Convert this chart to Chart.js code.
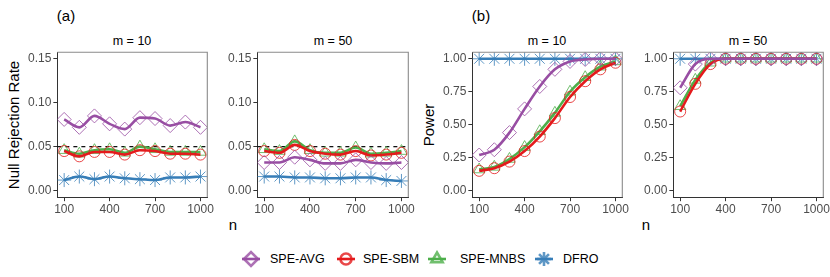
<!DOCTYPE html>
<html>
<head>
<meta charset="utf-8">
<script src="https://cdn.jsdelivr.net/npm/chart.js@4.4.1/dist/chart.umd.min.js"></script>
<style>
  body { margin: 0; width: 830px; height: 277px; background: #fff; position: relative; overflow: hidden;
         font-family: "Liberation Sans", Arial, sans-serif; }
  .panel { position: absolute; }
  .txt { position: absolute; white-space: nowrap; color: #000; transform: translate(-50%, -50%); }
  .leg { position: absolute; white-space: nowrap; font-size: 12.5px; color: #000; transform: translateY(-50%); }
  .icon { position: absolute; }
</style>
</head>
<body>

<div class="txt" style="left:66px;top:15px;font-size:15px;">(a)</div>
<div class="txt" style="left:481px;top:15px;font-size:15px;">(b)</div>

<div class="txt" style="left:132px;top:41px;font-size:12.5px;">m = 10</div>
<div class="txt" style="left:333px;top:41px;font-size:12.5px;">m = 50</div>
<div class="txt" style="left:547px;top:41px;font-size:12.5px;">m = 10</div>
<div class="txt" style="left:748px;top:41px;font-size:12.5px;">m = 50</div>

<div class="txt" style="left:13px;top:125px;font-size:15px;transform:translate(-50%,-50%) rotate(-90deg);">Null Rejection Rate</div>
<div class="txt" style="left:428px;top:125px;font-size:15px;transform:translate(-50%,-50%) rotate(-90deg);">Power</div>

<div class="txt" style="left:233px;top:224px;font-size:15px;">n</div>
<div class="txt" style="left:646px;top:224px;font-size:15px;">n</div>

<div class="panel" id="p1"><canvas id="c1"></canvas></div>
<div class="panel" id="p2"><canvas id="c2"></canvas></div>
<div class="panel" id="p3"><canvas id="c3"></canvas></div>
<div class="panel" id="p4"><canvas id="c4"></canvas></div>

<div id="legend"></div>

<script>
// ---- data ----
const nValues = [100, 200, 300, 400, 500, 600, 700, 800, 900, 1000];
const nTicks = [100, 400, 700, 1000];
const seriesNames = ['SPE-AVG', 'SPE-SBM', 'SPE-MNBS', 'DFRO'];

const nullTicks = [0, 0.05, 0.10, 0.15];
const powerTicks = [0, 0.25, 0.50, 0.75, 1.00];
const nominalLevel = 0.05;

// (a) null rejection rate, m = 10
const nullM10Avg  = [0.081, 0.072, 0.085, 0.076, 0.070, 0.083, 0.082, 0.074, 0.078, 0.072];
const nullM10Sbm  = [0.045, 0.039, 0.044, 0.044, 0.041, 0.046, 0.045, 0.042, 0.042, 0.041];
const nullM10Mnbs = [0.046, 0.042, 0.046, 0.047, 0.043, 0.050, 0.047, 0.044, 0.044, 0.044];
const nullM10Dfro = [0.012, 0.016, 0.013, 0.016, 0.014, 0.013, 0.012, 0.015, 0.015, 0.016];

// (a) null rejection rate, m = 50
const nullM50Avg  = [0.032, 0.032, 0.038, 0.035, 0.031, 0.031, 0.035, 0.032, 0.031, 0.032];
const nullM50Sbm  = [0.045, 0.043, 0.052, 0.045, 0.042, 0.041, 0.045, 0.040, 0.041, 0.043];
const nullM50Mnbs = [0.047, 0.045, 0.056, 0.046, 0.043, 0.043, 0.049, 0.042, 0.043, 0.045];
const nullM50Dfro = [0.016, 0.016, 0.015, 0.015, 0.014, 0.014, 0.015, 0.015, 0.012, 0.011];

// (b) power, m = 10
const powM10Avg  = [0.27, 0.31, 0.44, 0.62, 0.79, 0.92, 0.98, 0.995, 1.00, 1.00];
const powM10Sbm  = [0.15, 0.17, 0.22, 0.30, 0.41, 0.55, 0.71, 0.83, 0.92, 0.97];
const powM10Mnbs = [0.16, 0.18, 0.24, 0.33, 0.45, 0.59, 0.75, 0.86, 0.94, 0.98];
const powM10Dfro = [1.00, 1.00, 1.00, 1.00, 1.00, 1.00, 1.00, 1.00, 1.00, 1.00];

// (b) power, m = 50
const powM50Avg  = [0.78, 0.96, 1.00, 1.00, 1.00, 1.00, 1.00, 1.00, 1.00, 1.00];
const powM50Sbm  = [0.60, 0.81, 0.96, 1.00, 1.00, 1.00, 1.00, 1.00, 1.00, 1.00];
const powM50Mnbs = [0.64, 0.84, 0.97, 1.00, 1.00, 1.00, 1.00, 1.00, 1.00, 1.00];
const powM50Dfro = [1.00, 1.00, 1.00, 1.00, 1.00, 1.00, 1.00, 1.00, 1.00, 1.00];

// ---- styling ----
const FONT = '"Liberation Sans", Arial, sans-serif';
const lineColors  = ['#984EA3', '#E41A1C', '#4DAF4A', '#377EB8'];
const pointColors = ['rgba(152,78,163,0.8)', 'rgba(228,26,28,0.8)', 'rgba(77,175,74,0.8)', 'rgba(55,126,184,0.8)'];
const pointStyles = ['rectRot', 'circle', 'triangle', 'star'];
const pointSizes  = [7, 5.5, 6.5, 7];

// draws the dashed reference line and the grey top/right frame
const framePlugin = {
    id: 'frame',
    beforeDatasetsDraw(chart, args, opts) {
        if (opts.hline == null) return;
        const { ctx, chartArea } = chart;
        const y = chart.scales.y.getPixelForValue(opts.hline);
        ctx.save();
        ctx.strokeStyle = '#000';
        ctx.lineWidth = 1.2;
        ctx.setLineDash([4, 4]);
        ctx.beginPath();
        ctx.moveTo(chartArea.left, y);
        ctx.lineTo(chartArea.right, y);
        ctx.stroke();
        ctx.restore();
    },
    afterDatasetsDraw(chart) {
        const { ctx, chartArea: a } = chart;
        ctx.save();
        ctx.strokeStyle = '#8a8a8a';
        ctx.lineWidth = 1.1;
        ctx.beginPath();
        ctx.moveTo(a.left, a.top);
        ctx.lineTo(a.right, a.top);
        ctx.lineTo(a.right, a.bottom);
        ctx.stroke();
        ctx.restore();
    }
};

function makeDatasets(seriesList) {
    return seriesList.map((vals, i) => ({
        label: seriesNames[i],
        data: nValues.map((n, j) => ({ x: n, y: vals[j] })),
        borderColor: lineColors[i],
        borderWidth: 2.6,
        cubicInterpolationMode: 'monotone',
        pointStyle: pointStyles[i],
        pointRadius: pointSizes[i],
        pointBorderColor: pointColors[i],
        pointBackgroundColor: 'rgba(0,0,0,0)',
        pointBorderWidth: 1,
        order: i
    }));
}

function axisCommon() {
    return {
        grid: { display: true, drawOnChartArea: false, drawTicks: true, tickLength: 4, color: '#333', lineWidth: 1 },
        border: { display: true, color: '#333', width: 1 },
    };
}

function makePanel(num, box, seriesList, yMin, yMax, yTicks, hline) {
    const div = document.getElementById('p' + num);
    div.style.left = (box.l - 45) + 'px';
    div.style.top = (box.t - 3) + 'px';
    div.style.width = (box.r - box.l + 60) + 'px';
    div.style.height = (box.b - box.t + 25) + 'px';

    const chart = new Chart(document.getElementById('c' + num), {
        type: 'line',
        data: { datasets: makeDatasets(seriesList) },
        options: {
            responsive: true,
            maintainAspectRatio: false,
            animation: false,
            events: [],
            layout: { padding: { top: 3, right: 4, bottom: 0, left: 0 } },
            plugins: { legend: { display: false }, tooltip: { enabled: false }, frame: { hline: hline } },
            scales: {
                x: {
                    type: 'linear', min: 55, max: 1045,
                    afterBuildTicks: s => { s.ticks = nTicks.map(v => ({ value: v })); },
                    ticks: { color: '#4d4d4d', font: { size: 12, family: FONT }, padding: 1, maxRotation: 0, autoSkip: false,
                             callback: v => String(v) },
                    ...axisCommon()
                },
                y: {
                    type: 'linear', min: yMin, max: yMax,
                    afterBuildTicks: s => { s.ticks = yTicks.map(v => ({ value: v })); },
                    ticks: { color: '#4d4d4d', font: { size: 12, family: FONT }, padding: 2, autoSkip: false,
                             callback: v => Number(v).toFixed(2) },
                    ...axisCommon()
                }
            }
        },
        plugins: [framePlugin]
    });

    // line the plot area up with the target box
    for (let k = 0; k < 3; k++) {
        const a = chart.chartArea;
        const w = div.clientWidth, h = div.clientHeight;
        const leftOff = a.left, rightOff = w - a.right, topOff = a.top, botOff = h - a.bottom;
        div.style.left = (box.l - leftOff) + 'px';
        div.style.top = (box.t - topOff) + 'px';
        div.style.width = (box.r - box.l + leftOff + rightOff) + 'px';
        div.style.height = (box.b - box.t + topOff + botOff) + 'px';
        chart.resize();
    }
    return chart;
}

makePanel(1, { l: 57, r: 207, t: 52, b: 197 }, [nullM10Avg, nullM10Sbm, nullM10Mnbs, nullM10Dfro], -0.0075, 0.1575, nullTicks, nominalLevel);
makePanel(2, { l: 257, r: 408, t: 52, b: 197 }, [nullM50Avg, nullM50Sbm, nullM50Mnbs, nullM50Dfro], -0.0075, 0.1575, nullTicks, nominalLevel);
makePanel(3, { l: 472, r: 622, t: 52, b: 197 }, [powM10Avg, powM10Sbm, powM10Mnbs, powM10Dfro], -0.05, 1.05, powerTicks, null);
makePanel(4, { l: 673, r: 823, t: 52, b: 197 }, [powM50Avg, powM50Sbm, powM50Mnbs, powM50Dfro], -0.05, 1.05, powerTicks, null);

// ---- legend ----
const legendIconX = [251, 346, 437, 544];
const legendTextX = [270, 363, 460, 563];
const legend = document.getElementById('legend');
seriesNames.forEach((name, i) => {
    const cv = document.createElement('canvas');
    cv.className = 'icon';
    cv.width = 22; cv.height = 18;
    cv.style.left = (legendIconX[i] - 11) + 'px';
    cv.style.top = (259 - 9) + 'px';
    legend.appendChild(cv);
    const ctx = cv.getContext('2d');
    ctx.strokeStyle = lineColors[i];
    ctx.lineWidth = 2.6;
    ctx.beginPath();
    ctx.moveTo(2, 9); ctx.lineTo(20, 9);
    ctx.stroke();
    ctx.strokeStyle = pointColors[i];
    ctx.fillStyle = 'rgba(0,0,0,0)';
    Chart.helpers.drawPoint(ctx, { pointStyle: pointStyles[i], radius: pointSizes[i], rotation: 0, borderWidth: 1 }, 11, 9);

    const t = document.createElement('div');
    t.className = 'leg';
    t.style.left = legendTextX[i] + 'px';
    t.style.top = '259px';
    t.textContent = name;
    legend.appendChild(t);
});
</script>
</body>
</html>
